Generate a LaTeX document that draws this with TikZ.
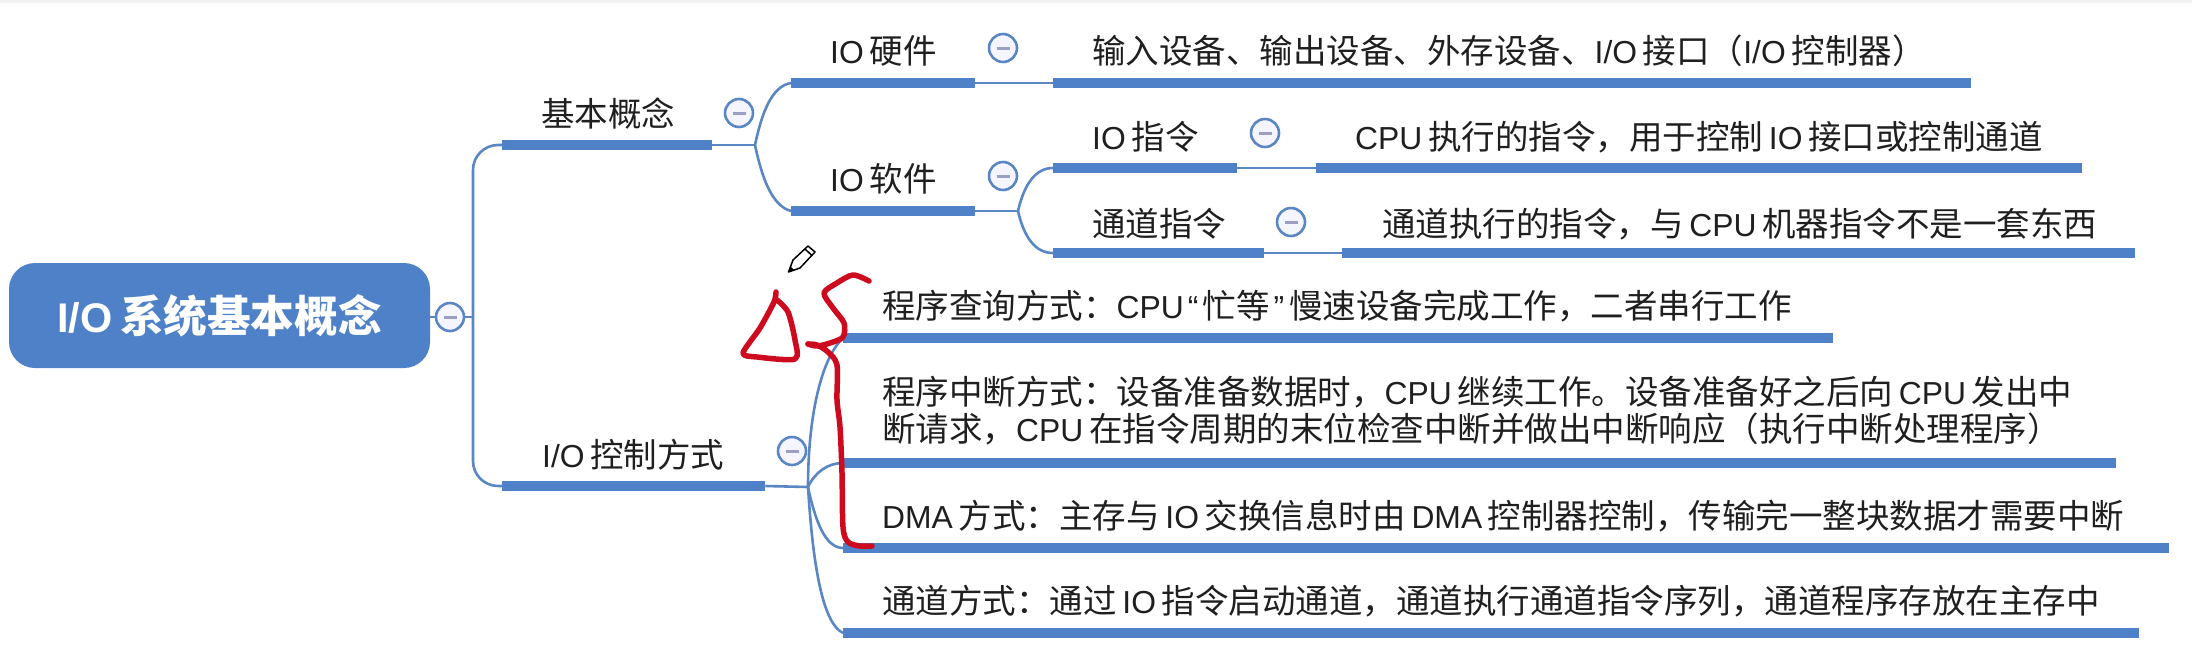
\documentclass[tikz,border=0pt]{standalone}
\usepackage{fontspec}
\setmainfont{Noto Sans CJK SC}
\newfontfamily\latf[Scale=0.95,WordSpace=0.65]{Liberation Sans}
\newcommand\la[1]{{\latf #1}}
\definecolor{barblue}{HTML}{4F81C8}
\definecolor{linkblue}{HTML}{5A86C4}
\definecolor{minusgrey}{HTML}{9C9EC2}
\definecolor{penred}{HTML}{CE0A1E}
\tikzset{
  bar/.style={rectangle,fill=barblue,draw=none,minimum height=10pt,inner sep=0pt,anchor=west},
  link/.style={draw=linkblue,line width=2.6pt},
  label/.style={anchor=west,inner sep=0pt,text height=30pt,text depth=2pt,font=\fontsize{33.5pt}{40pt}\selectfont,text=black!88},
  multilabel/.style={anchor=west,inner sep=0pt,align=left,font=\fontsize{33.5pt}{40pt}\selectfont,text=black!88},
  fold/.style={circle,draw=linkblue,line width=2.6pt,fill=white!96!blue,minimum size=28pt,inner sep=0pt,
    path picture={\draw[minusgrey,line width=3pt] ([xshift=-6.5pt]path picture bounding box.center) -- ([xshift=6.5pt]path picture bounding box.center);}},
  pen/.style={draw=penred,line width=5.5pt,line cap=round,line join=round},
}
\begin{document}
\begin{tikzpicture}[x=1pt,y=-1pt]
\useasboundingbox (0,0) rectangle (2192,646);
\fill[black!6] (0,0) rectangle (2192,3);
% root
\node[rectangle,rounded corners=26pt,fill=barblue,draw=none,minimum width=421pt,minimum height=105pt,inner sep=0pt,
  text=white,font=\fontsize{43.6pt}{47pt}\selectfont\bfseries] (root) at (219.5,315.5) {\la{I/O }系统基本概念};
\node[fold] (rootf) at (450,317) {};
% level 1 bars
\node[bar,minimum width=210pt] (basic) at (502,145) {};
\node[bar,minimum width=263pt] (ctrl) at (502,486) {};
\node[label] (basict) at (541,112) {基本概念};
\node[label] (ctrlt) at (542,453) {\la{I/O }控制方式};
\node[fold] (basicf) at (739,113) {};
\node[fold] (ctrlf) at (792,451) {};
% level 2 bars
\node[bar,minimum width=184pt] (hw) at (791,83) {};
\node[bar,minimum width=184pt] (sw) at (791,211) {};
\node[label] (hwt) at (830,49) {\la{IO }硬件};
\node[label] (swt) at (830,177) {\la{IO }软件};
\node[fold] (hwf) at (1003,48) {};
\node[fold] (swf) at (1003,176) {};
\node[bar,minimum width=918pt] (hwd) at (1053,83) {};
\node[label] (hwdt) at (1092,49) {输入设备、输出设备、外存设备、\la{I/O }接口（\la{I/O }控制器）};
% level 3
\node[bar,minimum width=184pt] (ioi) at (1053,168) {};
\node[bar,minimum width=211pt] (chi) at (1053,253) {};
\node[label] (ioit) at (1092,135) {\la{IO }指令};
\node[label] (chit) at (1092,222) {通道指令};
\node[fold] (ioif) at (1265,133) {};
\node[fold] (chif) at (1291,222) {};
\node[bar,minimum width=766pt] (ioid) at (1316,168) {};
\node[bar,minimum width=793pt] (chid) at (1342,253) {};
\node[label] (ioidt) at (1355,135) {\la{CPU }执行的指令，用于控制\la{ IO }接口或控制通道};
\node[label] (chidt) at (1382,222) {通道执行的指令，与\la{ CPU }机器指令不是一套东西};
% control modes
\node[bar,minimum width=990pt] (m1) at (843,338) {};
\node[bar,minimum width=1273pt] (m2) at (843,463) {};
\node[bar,minimum width=1326pt] (m3) at (843,548) {};
\node[bar,minimum width=1296pt] (m4) at (843,633) {};
\node[label] (m1t) at (882,304) {程序查询方式：\la{CPU}\kern4pt\la{“}\kern4pt忙等\kern4pt\la{”}\kern5pt慢速设备完成工作，二者串行工作};
\node[multilabel] (m2t) at (882,411) {程序中断方式：设备准备数据时，\la{CPU }继续工作。设备准备好之后向\la{ CPU }发出中\\[-3pt]断请求，\la{CPU }在指令周期的末位检查中断并做出中断响应（执行中断处理程序）};
\node[label] (m3t) at (882,514) {\la{DMA }方式：主存与\la{ IO }交换信息时由\la{ DMA }控制器控制，传输完一整块数据才需要中断};
\node[label] (m4t) at (882,599) {通道方式：通过\la{ IO }指令启动通道，通道执行通道指令序列，通道程序存放在主存中};
% junctions
\coordinate (trunk) at (473,317);
\coordinate (forkb) at (755,145);
\coordinate (forkc) at (808,487);
\coordinate (forks) at (1018,211);
% connectors
\draw[link] (root.east |- rootf) -- (rootf.west);
\draw[link] (rootf.east) -- (trunk);
\draw[link,rounded corners=25pt] (trunk) |- (basic.west);
\draw[link,rounded corners=25pt] (trunk) |- (ctrl.west);
\draw[link] (basic.east) -- (forkb);
\draw[link] (ctrl.east) -- (forkc);
\draw[link] (forkb) .. controls (762,112) and (772,86) .. (hw.west);
\draw[link] (forkb) .. controls (762,178) and (772,206) .. (sw.west);
\draw[link] (hw.east) -- (hwd.west);
\draw[link] (sw.east) -- (forks);
\draw[link] (forks) .. controls (1024,185) and (1035,168) .. (ioi.west);
\draw[link] (forks) .. controls (1024,237) and (1035,253) .. (chi.west);
\draw[link] (ioi.east) -- (ioid.west);
\draw[link] (chi.east) -- (chid.west);
\draw[link] (forkc) .. controls (808,420) and (820,360) .. (m1.west);
\draw[link] (forkc) .. controls (815,472) and (828,463) .. (m2.west);
\draw[link] (forkc) .. controls (815,520) and (825,548) .. (m3.west);
\draw[link] (forkc) .. controls (812,550) and (820,622) .. (m4.west);
% red handwriting
\draw[pen] plot[smooth,tension=.45] coordinates {(776,292) (774,302) (760,328) (743,353) (757,357) (795,359) (795,340) (788,312) (777,300)};
\draw[pen] plot[smooth,tension=.5] coordinates {(869,281) (853,275) (837,283) (824,293) (833,308) (844,323) (843,337) (830,343) (817,346) (808,344)};
\draw[pen] plot[smooth,tension=.5] coordinates {(808,344) (817,345) (828,352) (837,365) (837,400) (840,427) (842,473) (843,527) (848,542) (860,546) (872,546)};
% pencil cursor
\draw[black,fill=white,line width=1.5pt,line join=round] (788.5,272) -- (793,260) -- (808,246) -- (815,252) -- (800,268) -- cycle;
\fill[black] (788.5,272) -- (790.5,266.5) -- (794,270) -- cycle;
\draw[black,line width=1.5pt] (805,249) -- (812,255.5);
\end{tikzpicture}
\end{document}
